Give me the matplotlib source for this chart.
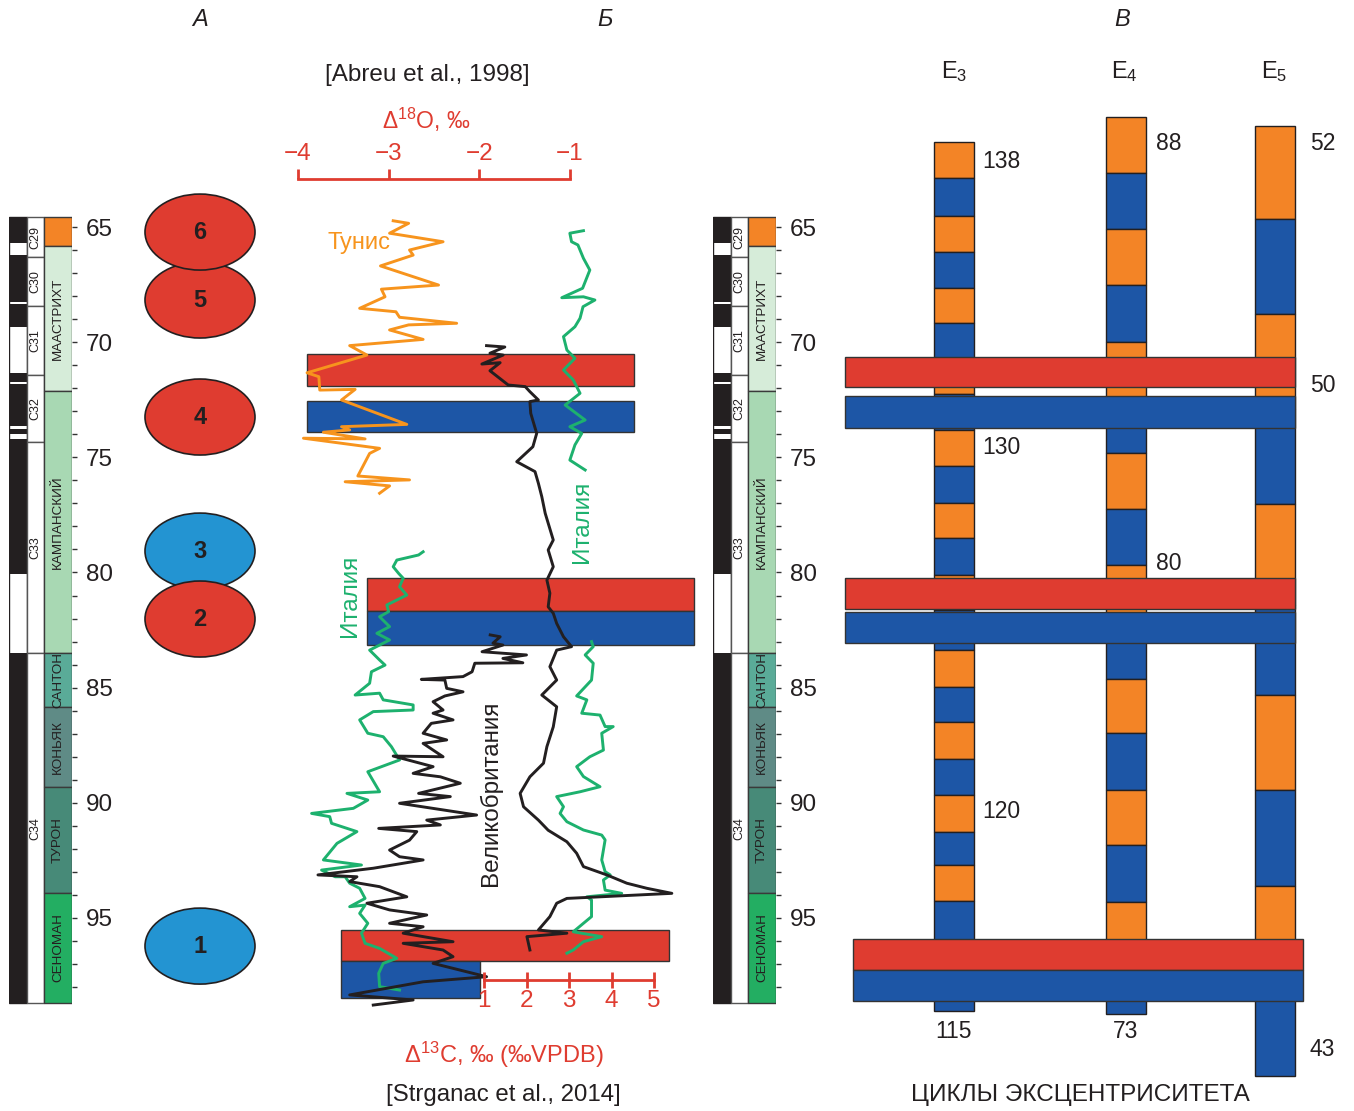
import numpy as np
import matplotlib
matplotlib.use('Agg')
import matplotlib.pyplot as plt
from matplotlib.patches import Ellipse

plt.rcParams['font.family'] = ['Liberation Sans', 'DejaVu Sans']
plt.rcParams['mathtext.fontset'] = 'custom'
plt.rcParams['mathtext.rm'] = 'Liberation Sans'
plt.rcParams['mathtext.it'] = 'Liberation Sans:italic'
plt.rcParams['mathtext.bf'] = 'Liberation Sans:bold'

W, H = 1354, 1111
PX_PER_MA = 23.033                      # vertical scale of the original figure
AGE_TOP = 65 - 227 / PX_PER_MA
AGE_BOT = 65 + (H - 227) / PX_PER_MA

INK = '#231f20'
RED = '#df3c30'
BLUE = '#1d56a6'
LIGHTBLUE = '#2394d2'
ORANGE = '#f38426'
GREEN = '#1db16e'
TUNIS = '#f7941d'

# ---------------- stratigraphic column ----------------
normal_top = [64.55, 66.22, 68.35, 71.35, 71.80, 73.78, 74.22, 83.51]
normal_base = [65.68, 68.27, 69.33, 71.72, 73.64, 74.00, 80.07, 98.70]

chrons = ['C29', 'C30', 'C31', 'C32', 'C33', 'C34']
chron_bounds = [64.55, 66.32, 68.43, 71.43, 74.32, 83.51, 98.70]

stages = ['', 'МААСТРИХТ', 'КАМПАНСКИЙ', 'САНТОН', 'КОНЬЯК', 'ТУРОН', 'СЕНОМАН']
stage_bounds = [64.55, 65.82, 72.12, 83.51, 85.85, 89.32, 93.90, 98.70]
stage_colors = ['#f38426', '#d6ecd9', '#a8d8b3', '#5aab98', '#5f8b86', '#478a78', '#23ae62']

# ---------------- events (ellipses) ----------------
event_num = [1, 3, 2, 4, 5, 6]
event_age = [96.22, 79.07, 82.02, 73.25, 68.17, 65.22]
event_warm = [False, False, True, True, True, True]

# ---------------- panel Б: isotope curves ----------------
tunis_age = [64.73, 64.84, 65.27, 65.64, 66.00, 66.22, 66.69, 67.52, 67.70, 68.03,
             68.53, 68.68, 68.92, 69.18, 69.25, 69.47, 69.88, 70.15, 70.56, 71.33,
             71.50, 72.08, 72.05, 72.51, 73.57, 73.67, 73.81, 73.91, 74.20, 74.17,
             74.61, 74.83, 75.81, 75.98, 76.06, 76.24, 76.56]
tunis_d18o = [-2.95, -2.78, -2.99, -2.40, -2.77, -2.73, -3.09, -2.45, -3.08, -3.04,
              -3.32, -2.92, -2.88, -2.25, -2.78, -2.99, -2.62, -3.43, -3.24, -3.90,
              -3.77, -3.76, -3.37, -3.52, -2.80, -3.52, -3.43, -3.72, -3.26, -3.94,
              -3.10, -3.21, -3.34, -2.77, -3.48, -2.99, -3.10]

italy_o_age = [79.10, 79.24, 79.46, 79.75, 80.04, 80.25, 80.62, 80.98, 81.41, 81.70,
               81.92, 82.35, 82.64, 82.93, 83.37, 83.80, 84.02, 84.31, 84.81, 85.32,
               85.24, 85.53, 85.75, 85.97, 86.04, 86.40, 86.98, 87.13, 87.56, 88.14,
               88.65, 89.52, 89.59, 89.88, 90.24, 90.46, 90.60, 90.89, 91.25, 91.76,
               92.48, 92.70, 92.92, 93.21, 93.21, 93.49, 93.71, 94.15, 94.51, 94.44,
               94.80, 95.23, 95.66, 96.10, 96.32, 96.75, 96.97, 97.40, 97.98, 98.13]
italy_o_d18o = [-2.62, -2.67, -2.91, -2.95, -2.89, -2.84, -2.88, -2.80, -3.02, -3.00,
                -3.10, -2.99, -3.13, -2.99, -3.21, -3.10, -3.04, -3.19, -3.21, -3.37,
                -3.10, -3.06, -2.73, -2.73, -3.17, -3.32, -3.23, -3.06, -2.97, -2.88,
                -3.23, -3.10, -3.46, -3.23, -3.39, -3.85, -3.65, -3.63, -3.35, -3.57,
                -3.72, -3.30, -3.74, -3.59, -3.48, -3.43, -3.32, -3.26, -3.43, -3.26,
                -3.32, -3.23, -3.30, -3.26, -3.10, -2.91, -3.06, -3.11, -3.10, -2.88]

gb_o_age = [82.71, 82.79, 83.07, 83.15, 83.44, 83.58, 83.73, 83.92, 83.94, 84.31,
            84.52, 84.64, 84.67, 85.03, 85.18, 85.36, 85.61, 85.97, 86.11, 86.40,
            86.55, 86.98, 87.27, 87.42, 88.00, 87.97, 88.43, 88.72, 88.87, 89.15,
            89.59, 89.73, 90.02, 90.53, 90.75, 90.96, 91.11, 91.25, 91.62, 92.05,
            92.34, 92.48, 92.84, 93.13, 93.21, 93.42, 93.64, 94.08, 94.36, 94.65,
            94.87, 95.23, 95.38, 95.66, 96.03, 96.10, 96.39, 96.68, 96.97, 97.55,
            97.77, 98.34, 98.56, 98.78]
gb_o_d18o = [-1.88, -1.77, -1.85, -1.74, -1.97, -1.48, -1.74, -1.52, -2.05, -2.08,
             -2.18, -2.64, -2.38, -2.36, -2.18, -2.38, -2.51, -2.40, -2.51, -2.29,
             -2.53, -2.62, -2.36, -2.62, -2.40, -2.95, -2.51, -2.73, -2.43, -2.21,
             -2.67, -2.32, -2.88, -2.03, -2.58, -2.43, -3.11, -2.69, -2.77, -2.99,
             -2.88, -2.62, -3.17, -3.78, -3.35, -3.43, -3.10, -2.80, -3.24, -2.99,
             -2.58, -2.99, -2.62, -2.84, -2.29, -2.84, -2.40, -2.29, -2.51, -1.92,
             -2.62, -3.43, -2.73, -3.17]

italy_c_age = [65.16, 65.27, 65.64, 65.78, 66.36, 66.87, 67.66, 68.07, 68.03, 68.17,
               68.46, 68.96, 69.33, 69.76, 70.34, 70.70, 71.21, 71.64, 72.22, 72.73,
               73.38, 73.67, 73.96, 74.46, 75.12, 75.55]
italy_c_d13c = [3.34, 3.02, 3.06, 3.21, 3.34, 3.49, 3.32, 2.83, 3.34, 3.61,
                3.33, 3.26, 3.14, 2.87, 2.95, 3.14, 2.87, 3.10, 3.26, 2.91,
                3.38, 3.02, 3.30, 3.14, 3.02, 3.38]

italy_c2_age = [83.00, 83.22, 83.58, 83.94, 84.67, 85.36, 85.53, 86.11, 86.19, 86.69,
                86.69, 86.98, 87.71, 88.00, 88.43, 88.86, 89.30, 89.52, 89.73, 90.17,
                90.46, 90.82, 91.18, 91.40, 91.61, 92.48, 92.99, 93.13, 93.35, 93.79,
                93.93, 94.08, 94.22, 94.94, 95.23, 95.60, 95.81, 96.03, 96.39, 96.53]
italy_c2_d13c = [3.53, 3.57, 3.38, 3.57, 3.53, 3.18, 3.42, 3.30, 3.73, 3.85,
                 4.04, 3.77, 3.81, 3.49, 3.18, 3.34, 3.73, 3.26, 2.71, 2.87,
                 2.79, 2.95, 3.34, 3.77, 3.85, 3.77, 3.85, 3.97, 3.81, 3.85,
                 4.24, 3.42, 3.53, 3.53, 3.34, 3.10, 3.77, 3.34, 3.10, 2.95]

gb_c_age = [70.15, 70.21, 70.48, 70.56, 70.95, 70.89, 71.24, 71.86, 71.93, 72.15,
            72.51, 72.58, 73.09, 73.96, 74.54, 75.19, 75.62, 76.13, 76.71, 77.43,
            78.59, 79.02, 79.75, 80.33, 80.90, 81.49, 81.77, 82.21, 82.79, 83.22,
            83.37, 84.09, 84.67, 85.32, 85.83, 86.70, 87.56, 88.28, 88.87, 89.59,
            90.17, 90.75, 91.19, 91.69, 92.19, 92.77, 93.13, 93.49, 93.71, 93.93,
            94.15, 94.36, 94.94, 95.52, 95.66, 95.81, 96.39]
gb_c_d13c = [1.06, 1.49, 1.14, 1.45, 0.95, 1.38, 1.14, 1.57, 1.97, 2.08,
             2.28, 2.08, 2.10, 2.24, 2.15, 1.77, 2.20, 2.28, 2.36, 2.44,
             2.63, 2.51, 2.63, 2.48, 2.55, 2.51, 2.63, 2.71, 2.87, 3.06,
             2.71, 2.55, 2.71, 2.36, 2.71, 2.63, 2.48, 2.40, 2.08, 1.85,
             1.93, 2.28, 2.51, 2.95, 3.18, 3.34, 3.89, 4.36, 4.83, 5.42,
             2.95, 2.71, 2.55, 2.28, 2.95, 2.01, 2.08]

# warm / cold intervals in panel Б and В
b_top = [70.53, 72.55, 80.23, 81.67, 95.52, 96.88]
b_base = [71.89, 73.91, 81.67, 83.15, 96.88, 98.46]
b_warm = [True, False, True, False, True, False]

v_top = [70.63, 72.34, 80.23, 81.70, 95.90, 97.25]
v_base = [71.96, 73.71, 81.57, 83.04, 97.25, 98.60]
v_warm = [True, False, True, False, True, False]

# ---------------- panel В: eccentricity cycles ----------------
e3_bounds = [61.30, 62.89, 64.51, 66.07, 67.64, 69.18, 70.69, 72.25, 73.81, 75.38,
             76.97, 78.52, 80.11, 81.63, 83.37, 84.95, 86.51, 88.10, 89.68, 91.27,
             92.72, 94.26, 99.04]
e4_bounds = [60.24, 62.64, 65.10, 67.52, 69.98, 72.41, 74.83, 77.26, 79.67, 82.11,
             84.62, 86.96, 89.44, 91.84, 94.31, 96.74, 99.19]
e5_bounds = [60.60, 64.67, 68.79, 72.90, 77.04, 81.41, 85.33, 89.44, 93.63, 97.69, 101.88]
e3_labels = ['138', '130', '120', '115']
e4_labels = ['88', '80', '73']
e5_labels = ['52', '50', '43']

fig = plt.figure(figsize=(W / 100, H / 100), dpi=100)


def ftext(x, y, s, **kw):
    kw.setdefault('ha', 'center')
    kw.setdefault('va', 'center')
    kw.setdefault('color', INK)
    fig.text(x / W, 1 - y / H, s, **kw)


ax = fig.add_axes([0, 0, 1, 1])
ax.set_xlim(0, W)
ax.set_ylim(AGE_BOT, AGE_TOP)
ax.axis('off')


def strat_column(x0):
    c = fig.add_axes([x0 / W, 0, 63 / W, 1])
    c.set_xlim(0, 63)
    c.set_ylim(AGE_BOT, AGE_TOP)
    c.patch.set_visible(False)
    for s in c.spines.values():
        s.set_visible(False)
    top, base = chron_bounds[0], chron_bounds[-1]
    c.bar(0, base - top, bottom=top, width=17.7, align='edge', color='white',
          edgecolor=INK, linewidth=1)
    c.bar([0] * len(normal_top), np.subtract(normal_base, normal_top), bottom=normal_top,
          width=17.7, align='edge', color=INK, linewidth=0)
    tops, bases = chron_bounds[:-1], chron_bounds[1:]
    c.bar([17.7] * len(chrons), np.subtract(bases, tops), bottom=tops, width=17.6,
          align='edge', color='white', edgecolor='#555555', linewidth=1)
    for name, t, b in zip(chrons, tops, bases):
        c.text(26.5, (t + b) / 2, name, rotation=90, ha='center', va='center',
               fontsize=9, color=INK)
    tops, bases = stage_bounds[:-1], stage_bounds[1:]
    c.bar([35.3] * len(stages), np.subtract(bases, tops), bottom=tops, width=27.4,
          align='edge', color=stage_colors, edgecolor='#3a3a3a', linewidth=1)
    for name, t, b in zip(stages, tops, bases):
        c.text(49, (t + b) / 2, name, rotation=90, ha='center', va='center',
               fontsize=9.7, color=INK)
    c.set_xticks([])
    c.yaxis.tick_right()
    c.set_yticks(range(65, 96, 5))
    c.set_yticks(range(65, 99), minor=True)
    c.tick_params(axis='y', which='both', length=3.8, width=1, color='#333333',
                  pad=6, labelsize=17.5, labelcolor=INK)
    return c


strat_column(9)
strat_column(713)

# ---- ellipses (column А) ----
for n, a, warm in zip(event_num, event_age, event_warm):
    ax.add_patch(Ellipse((200, a), 110, 76 / PX_PER_MA, facecolor=RED if warm else LIGHTBLUE,
                         edgecolor=INK, linewidth=1.2))
    ax.text(200, a, str(n), ha='center', va='center', fontsize=17, fontweight='bold', color=INK)

# ---- panel Б bands ----
b_x = [(306.7, 634.3), (306.7, 634.3), (366.7, 694), (366.7, 694), (341, 669.3), (341, 480)]
for (x0, x1), t, b, warm in zip(b_x, b_top, b_base, b_warm):
    ax.bar(x0, b - t, bottom=t, width=x1 - x0, align='edge', color=RED if warm else BLUE,
           edgecolor='#333333', linewidth=1)

# ---- panel В columns and bands ----
for x0, bounds in zip([934.3, 1105.7, 1255], [e3_bounds, e4_bounds, e5_bounds]):
    tops, bases = bounds[:-1], bounds[1:]
    cols = [ORANGE if i % 2 == 0 else BLUE for i in range(len(tops))]
    ax.bar([x0] * len(tops), np.subtract(bases, tops), bottom=tops, width=40, align='edge',
           color=cols, edgecolor=INK, linewidth=1)

v_x = [(845, 1295), (845, 1295), (845, 1295), (845, 1295), (853, 1303), (853, 1303)]
for (x0, x1), t, b, warm in zip(v_x, v_top, v_base, v_warm):
    ax.bar(x0, b - t, bottom=t, width=x1 - x0, align='edge', color=RED if warm else BLUE,
           edgecolor='#333333', linewidth=1)

# ---- curves: δ18O axes (top scale) and δ13C axes (bottom scale) ----
o_per_px = 3 / (570 - 298)
ax18 = fig.add_axes([0, 0, 1, 1])
ax18.set_xlim(-4 - 298 * o_per_px, -4 + (W - 298) * o_per_px)
ax18.set_ylim(AGE_BOT, AGE_TOP)
ax18.axis('off')
ax18.plot(tunis_d18o, tunis_age, color=TUNIS, lw=2.1)
ax18.plot(italy_o_d18o, italy_o_age, color=GREEN, lw=2.1)
ax18.plot(gb_o_d18o, gb_o_age, color=INK, lw=2.1)

c_per_px = 4 / (654 - 484)
ax13 = fig.add_axes([0, 0, 1, 1])
ax13.set_xlim(1 - 484 * c_per_px, 1 + (W - 484) * c_per_px)
ax13.set_ylim(AGE_BOT, AGE_TOP)
ax13.axis('off')
ax13.plot(italy_c_d13c, italy_c_age, color=GREEN, lw=2.1)
ax13.plot(italy_c2_d13c, italy_c2_age, color=GREEN, lw=2.1)
ax13.plot(gb_c_d13c, gb_c_age, color=INK, lw=2.1)

# scale bars
axo = fig.add_axes([298 / W, 1 - 179 / H, 272 / W, 1e-4])
axo.set_xlim(-4, -1)
axo.set_xticks([-4, -3, -2, -1])
axo.set_yticks([])
axo.patch.set_visible(False)
for k, s in axo.spines.items():
    s.set_visible(k == 'top')
    s.set_color(RED)
    s.set_linewidth(2)
axo.xaxis.tick_top()
axo.tick_params(axis='x', direction='out', length=7, width=2, color=RED, labelcolor=RED,
                labelsize=17.5, pad=3)

axc = fig.add_axes([484 / W, 1 - 980 / H, 170 / W, 1e-4])
axc.set_xlim(1, 5)
axc.set_xticks([1, 2, 3, 4, 5])
axc.set_yticks([])
axc.patch.set_visible(False)
for k, s in axc.spines.items():
    s.set_visible(k == 'bottom')
    s.set_color(RED)
    s.set_linewidth(2)
axc.tick_params(axis='x', direction='inout', length=12, width=2, color=RED, labelcolor=RED,
                labelsize=17.5, pad=1)

# ---- texts ----
ftext(200, 20, 'А', fontsize=17, style='italic')
ftext(605, 20, 'Б', fontsize=17, style='italic')
ftext(1122, 20, 'В', fontsize=17, style='italic')

ftext(427, 75, '[Abreu et al., 1998]', fontsize=17.5)
ftext(426, 120, r'Δ$^{\mathregular{18}}$O, ‰', fontsize=16.5, color=RED)
ftext(504, 1055, r'Δ$^{\mathregular{13}}$C, ‰ (‰VPDB)', fontsize=17, color=RED)
ftext(503, 1095, '[Strganac et al., 2014]', fontsize=17.3)

ftext(327, 243, 'Тунис', fontsize=17, color=TUNIS, ha='left')
ftext(350, 596, 'Италия', fontsize=17.5, color=GREEN, rotation=90)
ftext(582, 522, 'Италия', fontsize=17.5, color=GREEN, rotation=90)
ftext(490, 793, 'Великобритания', fontsize=17.5, rotation=90)

ftext(954, 72, r'E$_{\mathregular{3}}$', fontsize=17)
ftext(1124, 72, r'E$_{\mathregular{4}}$', fontsize=17)
ftext(1274, 72, r'E$_{\mathregular{5}}$', fontsize=17)

for s, (x, y) in zip(e3_labels, [(982, 162), (982, 448), (982, 812)]):
    ftext(x, y, s, fontsize=16.5, ha='left')
ftext(953, 1032, e3_labels[3], fontsize=16.5)
for s, (x, y) in zip(e4_labels[:2], [(1156, 143), (1156, 563)]):
    ftext(x, y, s, fontsize=16.5, ha='left')
ftext(1126, 1032, e4_labels[2], fontsize=16.5)
for s, (x, y) in zip(e5_labels, [(1310, 143), (1310, 385), (1310, 1050)]):
    ftext(x, y, s, fontsize=16.5, ha='left')

ftext(1080, 1095, 'ЦИКЛЫ ЭКСЦЕНТРИСИТЕТА', fontsize=17.5)

fig.savefig('out.png', dpi=100)
